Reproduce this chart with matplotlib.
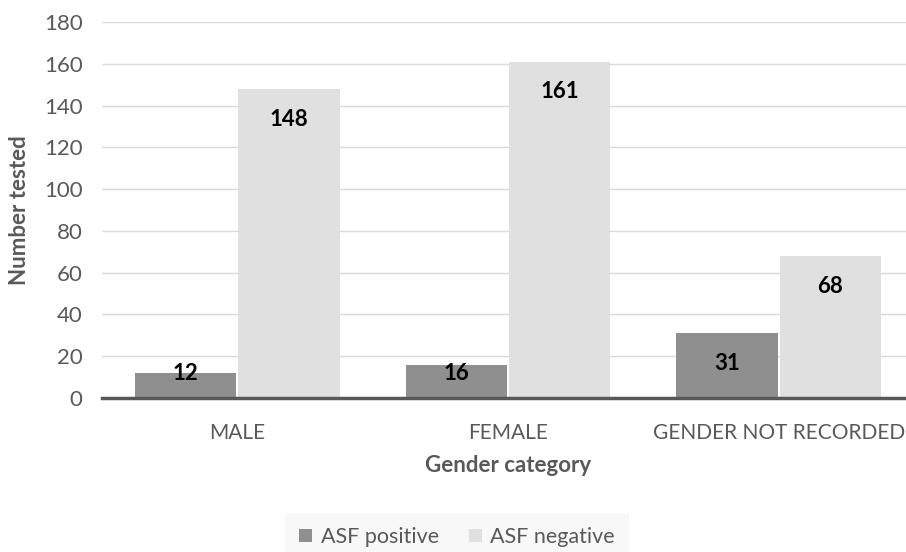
import matplotlib
matplotlib.use("Agg")
import matplotlib.pyplot as plt
import numpy as np

# ----------- Données -----------
categories = ["MALE", "FEMALE", "GENDER NOT RECORDED"]
asf_positive = [12, 16, 31]
asf_negative = [148, 161, 68]
series_names = ["ASF positive", "ASF negative"]

plt.rcParams['font.family'] = ['Lato', 'DejaVu Sans']

gris_fonce = "#8f8f8f"
gris_clair = "#e0e0e0"
texte = "#595959"

fig = plt.figure(figsize=(9.06, 5.52), dpi=100)
ax = fig.add_axes([102 / 906, 154 / 552, 812 / 906, 376 / 552])

x = np.arange(len(categories))
largeur = 0.374
b1 = ax.bar(x - largeur / 2 - 0.004, asf_positive, largeur, color=gris_fonce, label=series_names[0], zorder=3)
b2 = ax.bar(x + largeur / 2 + 0.004, asf_negative, largeur, color=gris_clair, label=series_names[1], zorder=3)

# étiquettes à l'intérieur du haut des barres
for barres in (b1, b2):
    for b in barres:
        v = b.get_height()
        ax.text(b.get_x() + b.get_width() / 2, max(v - 14.5, 11.5), f"{v:.0f}",
                ha='center', va='center', fontsize=16, fontweight='bold', color='black', zorder=4)

ax.set_xlim(-0.5, 2.5)
ax.set_ylim(0, 180)
ax.set_yticks(range(0, 181, 20))
ax.set_xticks(x)
ax.set_xticklabels(categories, fontsize=15)
ax.tick_params(axis='y', length=0, labelsize=16, colors=texte, pad=14)
ax.tick_params(axis='x', length=0, colors=texte, pad=18)
ax.grid(axis='y', color='#d9d9d9', linewidth=1, zorder=0)
for side in ('top', 'right', 'left'):
    ax.spines[side].set_visible(False)
ax.spines['bottom'].set_color('#595959')
ax.spines['bottom'].set_linewidth(2.5)
ax.spines['bottom'].set_zorder(5)

ax.set_ylabel("Number tested", fontsize=16, fontweight='bold', color=texte, labelpad=10)
ax.set_xlabel("Gender category", fontsize=16, fontweight='bold', color=texte, labelpad=9)

leg = fig.legend(loc='center', bbox_to_anchor=(457 / 906, 1 - 537 / 552), ncol=2, fontsize=15.5,
                 frameon=True, handlelength=0.6, handleheight=0.6, handletextpad=0.4, columnspacing=1.4,
                 borderpad=0.35)
leg.get_frame().set_facecolor('#f7f7f7')
leg.get_frame().set_edgecolor('none')
leg.get_frame().set_boxstyle('square')
for t in leg.get_texts():
    t.set_color(texte)

fig.savefig("out.png", dpi=100)
